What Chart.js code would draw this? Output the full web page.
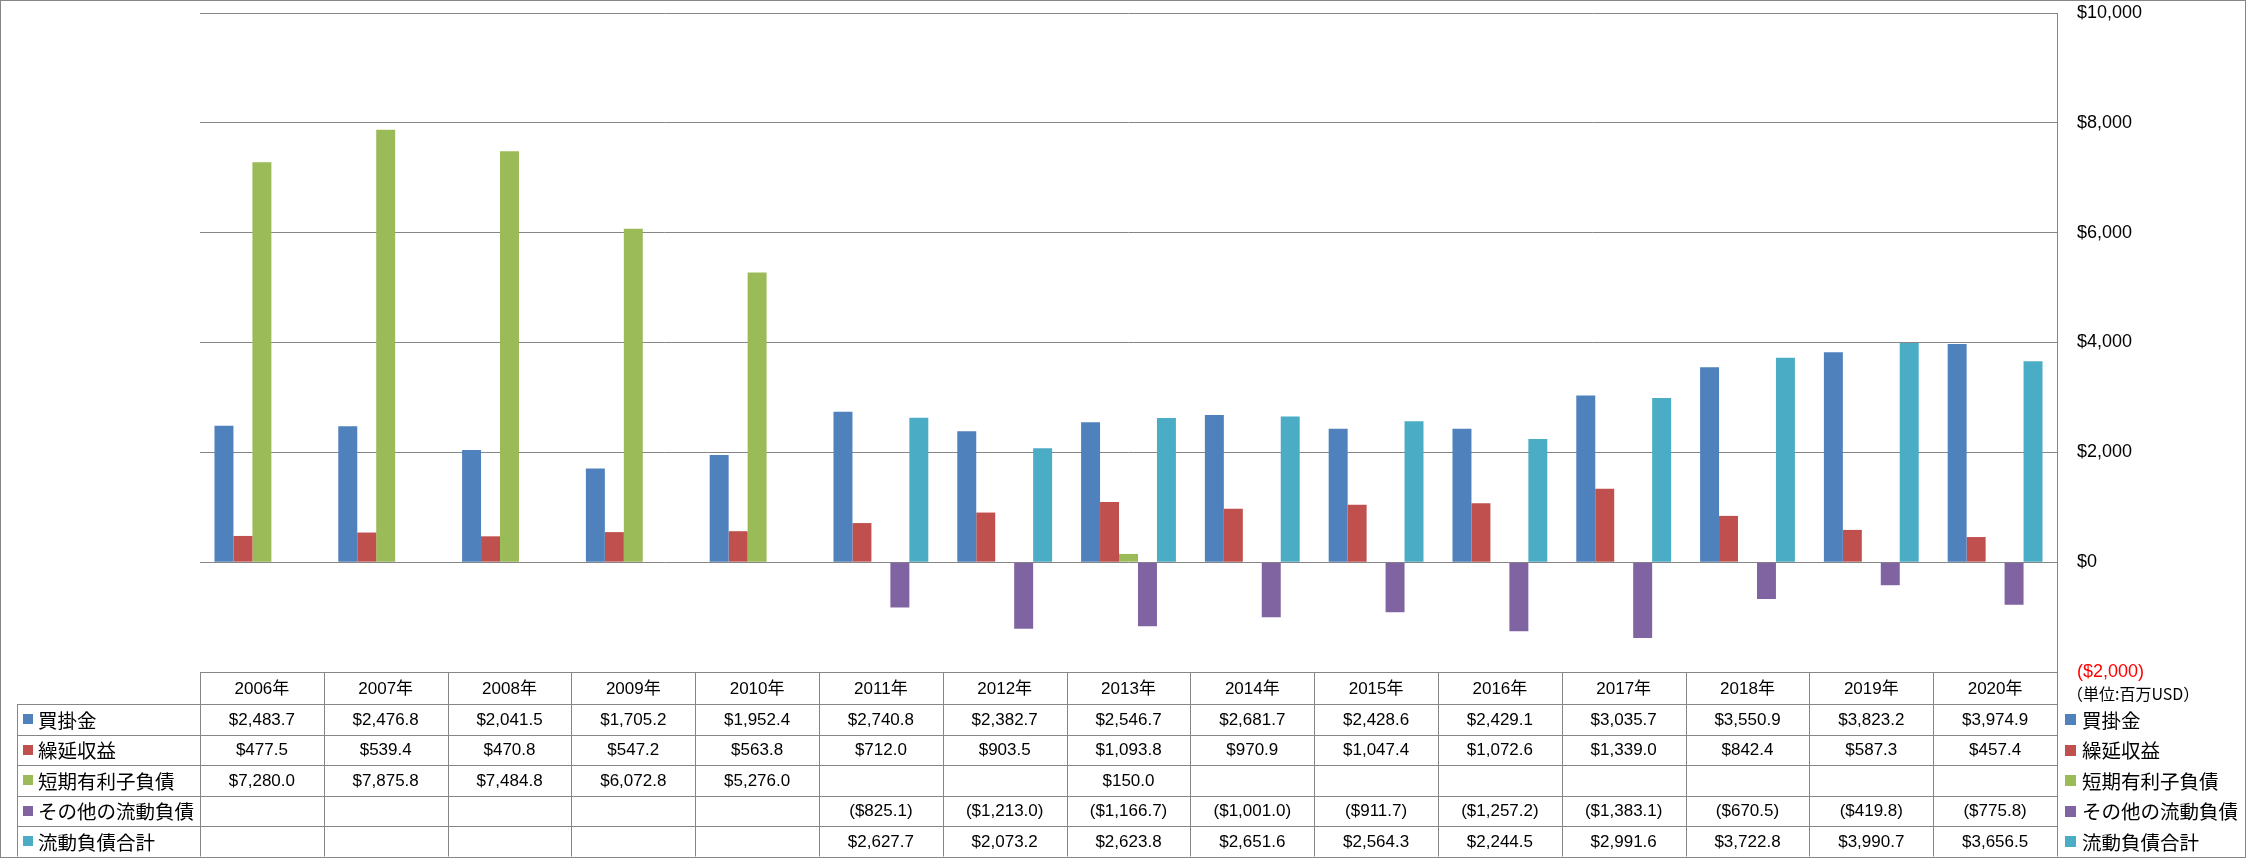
<!DOCTYPE html>
<html>
<head>
<meta charset="utf-8">
<script src="https://cdn.jsdelivr.net/npm/chart.js@4"></script>
<style>
  body { margin: 0; background: #fff; }
  #wrap { width: 2246px; height: 858px; position: relative; }
</style>
</head>
<body>
<div id="wrap"><canvas id="chart"></canvas></div>
<script>
const years = ["2006年", "2007年", "2008年", "2009年", "2010年", "2011年", "2012年", "2013年",
  "2014年", "2015年", "2016年", "2017年", "2018年", "2019年", "2020年"];

const seriesNames = ["買掛金", "繰延収益", "短期有利子負債", "その他の流動負債", "流動負債合計"];
const seriesColors = ["#4F81BD", "#C0504D", "#9BBB59", "#8064A2", "#4BACC6"];

const accountsPayable = [2483.7, 2476.8, 2041.5, 1705.2, 1952.4, 2740.8, 2382.7, 2546.7,
  2681.7, 2428.6, 2429.1, 3035.7, 3550.9, 3823.2, 3974.9];
const deferredRevenue = [477.5, 539.4, 470.8, 547.2, 563.8, 712.0, 903.5, 1093.8,
  970.9, 1047.4, 1072.6, 1339.0, 842.4, 587.3, 457.4];
const shortTermDebt = [7280.0, 7875.8, 7484.8, 6072.8, 5276.0, null, null, 150.0,
  null, null, null, null, null, null, null];
const otherLiabilities = [null, null, null, null, null, -825.1, -1213.0, -1166.7,
  -1001.0, -911.7, -1257.2, -1383.1, -670.5, -419.8, -775.8];
const totalCurrent = [null, null, null, null, null, 2627.7, 2073.2, 2623.8,
  2651.6, 2564.3, 2244.5, 2991.6, 3722.8, 3990.7, 3656.5];

const yTicks = { min: -2000, max: 10000, step: 2000 };
const unitLabel = "（単位:百万USD）";

const allSeries = [accountsPayable, deferredRevenue, shortTermDebt, otherLiabilities, totalCurrent];

const lineColor = "#868686";
const numFont = '17px "Liberation Sans", "Noto Sans CJK JP", sans-serif';
const jpFont = '19.5px "Noto Sans CJK JP", sans-serif';

function money(v, digits) {
  const s = Math.abs(v).toLocaleString("en-US", { minimumFractionDigits: digits, maximumFractionDigits: digits });
  return v < 0 ? "($" + s + ")" : "$" + s;
}

// data table + legends drawn under / beside the plot
const dataTable = {
  id: "dataTable",
  afterDraw(chart) {
    const { ctx, chartArea } = chart;
    const left = chartArea.left, right = chartArea.right;
    const colW = (right - left) / years.length;
    const top = chartArea.bottom;
    const headerH = 32;
    const rowH = 30.5;
    const keyLeft = 17;
    const bottom = top + headerH + rowH * allSeries.length;
    const px = v => Math.round(v) + 0.5;

    ctx.save();
    ctx.strokeStyle = lineColor;
    ctx.lineWidth = 1;
    ctx.beginPath();
    // header top
    ctx.moveTo(left, px(top)); ctx.lineTo(right, px(top));
    // row lines
    for (let r = 0; r <= allSeries.length; r++) {
      const y = px(top + headerH + rowH * r);
      ctx.moveTo(keyLeft, y); ctx.lineTo(right, y);
    }
    // column lines
    for (let c = 0; c <= years.length; c++) {
      const x = px(left + colW * c);
      ctx.moveTo(x, top); ctx.lineTo(x, bottom);
    }
    ctx.moveTo(px(keyLeft), top + headerH); ctx.lineTo(px(keyLeft), bottom);
    ctx.stroke();

    // outer border
    ctx.strokeRect(0.5, 0.5, chart.width - 1, px(bottom) - 0.5);

    ctx.fillStyle = "#000";
    ctx.textAlign = "center";
    ctx.textBaseline = "middle";
    ctx.font = numFont;
    years.forEach((yr, c) => {
      ctx.fillText(yr, left + colW * (c + 0.5), top + headerH / 2 + 1);
    });
    allSeries.forEach((vals, r) => {
      const cy = top + headerH + rowH * (r + 0.5) + 1;
      vals.forEach((v, c) => {
        if (v === null) return;
        ctx.fillText(money(v, 1), left + colW * (c + 0.5), cy);
      });
    });

    // legend keys, left and right
    ctx.textAlign = "left";
    ctx.font = jpFont;
    seriesNames.forEach((name, r) => {
      const cy = top + headerH + rowH * (r + 0.5);
      ctx.fillStyle = seriesColors[r];
      ctx.fillRect(23, Math.round(cy - 5), 10, 10);
      ctx.fillRect(right + 8, Math.round(cy - 5), 11, 11);
      ctx.fillStyle = "#000";
      ctx.fillText(name, 38, cy + 1);
      ctx.fillText(name, right + 25, cy + 1);
    });

    // unit note under the lowest tick
    ctx.font = '16px "Noto Sans CJK JP", sans-serif';
    ctx.fillText(unitLabel, right + 10, top + 22);
    ctx.restore();
  }
};

new Chart(document.getElementById("chart"), {
  type: "bar",
  data: {
    labels: years,
    datasets: allSeries.map((vals, i) => ({
      label: seriesNames[i],
      data: vals,
      backgroundColor: seriesColors[i],
      borderWidth: 0,
      barPercentage: 1.0,
      categoryPercentage: 0.766,
    })),
  },
  options: {
    responsive: true,
    maintainAspectRatio: false,
    animation: false,
    layout: { padding: { left: 200, top: 13, bottom: 186, right: 0 } },
    plugins: { legend: { display: false }, tooltip: { enabled: false } },
    scales: {
      x: { display: false },
      y: {
        position: "right",
        min: yTicks.min,
        max: yTicks.max,
        afterFit(scale) {
          scale.width = 189;
          scale.paddingTop = 0;
          scale.paddingBottom = 0;
        },
        grid: { color: lineColor, drawTicks: false },
        border: { color: lineColor },
        ticks: {
          stepSize: yTicks.step,
          padding: 20,
          font: { family: '"Liberation Sans", sans-serif', size: 18 },
          color: c => (c.tick && c.tick.value < 0 ? "#FF0000" : "#000"),
          callback: v => money(v, 0),
        },
      },
    },
  },
  plugins: [dataTable],
});
</script>
</body>
</html>
